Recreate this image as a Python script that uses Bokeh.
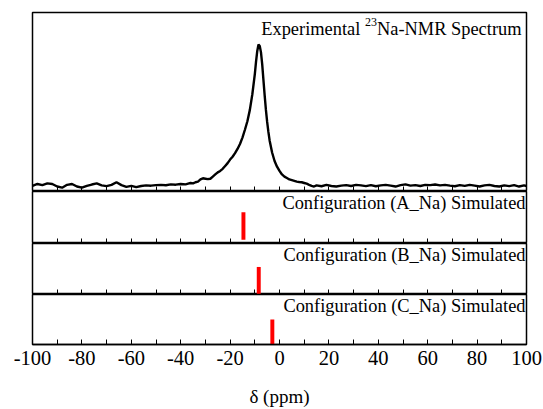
from bokeh.plotting import figure
from bokeh.layouts import column
from bokeh.models import Range1d, FixedTicker, Label, CustomLabelingPolicy
from bokeh.embed import file_html
from bokeh.resources import INLINE

# ---------------- data ----------------
ppm = [-100, -98, -96, -94, -92, -90, -88, -86, -84, -82, -80, -78, -76, -74, -72, -70,
       -68, -66, -64, -62, -60, -58, -56, -54, -52, -50, -48, -46, -44, -42, -40, -38,
       -37, -36, -35, -34, -33, -32, -31, -30, -29, -28, -27, -26, -25, -24, -23, -22,
       -21, -20, -19, -18, -17, -16, -15, -14, -13, -12, -11, -10, -9.5, -9, -8.5, -8,
       -7.5, -7, -6.5, -6, -5.5, -5, -4.5, -4, -3, -2, -1, 0, 1, 2, 3, 4, 5, 6, 7, 8,
       9, 10, 11, 12, 13, 14, 15, 17, 19, 21, 23, 25, 27, 29, 31, 33, 35, 37, 39, 41,
       43, 45, 47, 49, 51, 53, 55, 57, 59, 61, 63, 65, 67, 69, 71, 73, 75, 77, 79, 81,
       83, 85, 87, 89, 91, 93, 95, 97, 99, 100]
intensity = [0.005, 0.018, 0.010, 0.022, 0.018, 0.000, -0.008, 0.012, 0.018, 0.000,
             -0.008, 0.005, 0.014, 0.022, 0.008, 0.003, 0.012, 0.030, 0.010, -0.002,
             0.005, -0.004, 0.004, 0.008, 0.006, 0.010, 0.012, 0.009, 0.015, 0.013,
             0.018, 0.015, 0.020, 0.025, 0.022, 0.030, 0.035, 0.050, 0.058, 0.055,
             0.052, 0.055, 0.070, 0.085, 0.100, 0.110, 0.125, 0.145, 0.165, 0.190,
             0.210, 0.235, 0.265, 0.300, 0.345, 0.400, 0.460, 0.540, 0.650, 0.790,
             0.880, 0.955, 1.000, 0.990, 0.945, 0.860, 0.750, 0.640, 0.540, 0.455,
             0.385, 0.325, 0.240, 0.180, 0.140, 0.110, 0.085, 0.070, 0.060, 0.050,
             0.045, 0.040, 0.035, 0.032, 0.030, 0.025, 0.020, 0.012, 0.005, 0.000,
             0.008, 0.002, 0.012, 0.004, 0.000, 0.006, 0.010, 0.004, 0.012, 0.008,
             0.003, 0.010, 0.002, 0.008, 0.012, 0.006, 0.000, 0.010, 0.015, 0.006,
             0.010, 0.004, 0.012, 0.010, 0.014, 0.008, 0.012, 0.006, 0.002, 0.010,
             0.005, 0.012, 0.006, 0.000, 0.008, 0.012, 0.004, 0.000, 0.008, 0.003,
             0.010, 0.000, 0.008, 0.004]

sim_names = ["Configuration (A_Na) Simulated",
             "Configuration (B_Na) Simulated",
             "Configuration (C_Na) Simulated"]
sim_shift = [-14.6, -8.4, -2.9]
sim_bottom = [0.07, 0.0, 0.0]
sim_top = [0.60, 0.54, 0.50]

major_ticks = [-100, -80, -60, -40, -20, 0, 20, 40, 60, 80, 100]
minor_ticks = [-90, -70, -50, -30, -10, 10, 30, 50, 70, 90]
tick_labels = {t: str(t) for t in major_ticks}

FONT = "Liberation Serif"
LABEL_SIZE = "18.4px"
W = 543
LEFT = 32
RIGHT = 17

x_range = Range1d(-100, 100)

hide_all = CustomLabelingPolicy(code="""
for (const i of indices) {
  indices.unset(i)
}
return indices
""")


def make_panel(height, y_start, y_end, top_border=0, bottom_border=0, show_labels=False):
    p = figure(width=W, height=height, x_range=x_range,
               y_range=Range1d(y_start, y_end),
               output_backend="svg", toolbar_location=None,
               y_axis_location=None,
               min_border_left=LEFT, min_border_right=RIGHT,
               min_border_top=top_border, min_border_bottom=bottom_border)
    p.grid.visible = False
    p.outline_line_color = "black"
    p.outline_line_width = 1.5
    p.background_fill_color = "white"
    p.border_fill_color = "white"
    ax = p.xaxis[0]
    ax.ticker = FixedTicker(ticks=major_ticks, minor_ticks=minor_ticks)
    ax.axis_line_color = "black"
    ax.axis_line_width = 1.5
    ax.major_tick_in = 5
    ax.major_tick_out = 0
    ax.minor_tick_in = 5
    ax.minor_tick_out = 0
    ax.major_tick_line_color = "black"
    ax.minor_tick_line_color = "black"
    if show_labels:
        ax.major_label_overrides = tick_labels
        ax.major_label_text_font = FONT
        ax.major_label_text_font_size = "20.5px"
        ax.major_label_text_color = "black"
        ax.major_label_standoff = 6
        ax.axis_label = "δ (ppm)"
        ax.axis_label_text_font = FONT
        ax.axis_label_text_font_size = "19px"
        ax.axis_label_text_font_style = "normal"
        ax.axis_label_text_color = "black"
        ax.axis_label_standoff = 18
    else:
        ax.major_label_policy = hide_all
        ax.major_label_text_font_size = "0px"
        ax.major_label_standoff = 0
    return p


# top panel: experimental spectrum
Y0, Y1 = -0.035, 1.226
p0 = make_panel(191, Y0, Y1, top_border=12)
p0.line(ppm, intensity, line_color="black", line_width=2.4)

p0.add_layout(Label(x=100, y=Y1, x_offset=-5, y_offset=-6, text="Na-NMR Spectrum",
                    text_align="right", text_baseline="top", text_font=FONT,
                    text_font_size=LABEL_SIZE, text_color="black"))
p0.add_layout(Label(x=100, y=Y1, x_offset=-149.6, y_offset=-5, text="23",
                    text_align="right", text_baseline="top", text_font=FONT,
                    text_font_size="12px", text_color="black"))
p0.add_layout(Label(x=100, y=Y1, x_offset=-166.2, y_offset=-6, text="Experimental",
                    text_align="right", text_baseline="top", text_font=FONT,
                    text_font_size=LABEL_SIZE, text_color="black"))

heights = [52, 51, 115]
panels = [p0]
for i in range(3):
    last = (i == 2)
    p = make_panel(heights[i], 0, 1, top_border=0,
                   bottom_border=63 if last else 0, show_labels=last)
    p.vbar(x=[sim_shift[i]], bottom=[sim_bottom[i]], top=[sim_top[i]], width=1.6,
           fill_color="#ff0000", line_color=None)
    p.add_layout(Label(x=100, y=1, x_offset=-1, y_offset=-1, text=sim_names[i],
                       text_align="right", text_baseline="top", text_font=FONT,
                       text_font_size=LABEL_SIZE, text_color="black"))
    panels.append(p)

layout = column(*panels, spacing=0)
open("out.html", "w").write(file_html(layout, INLINE))
